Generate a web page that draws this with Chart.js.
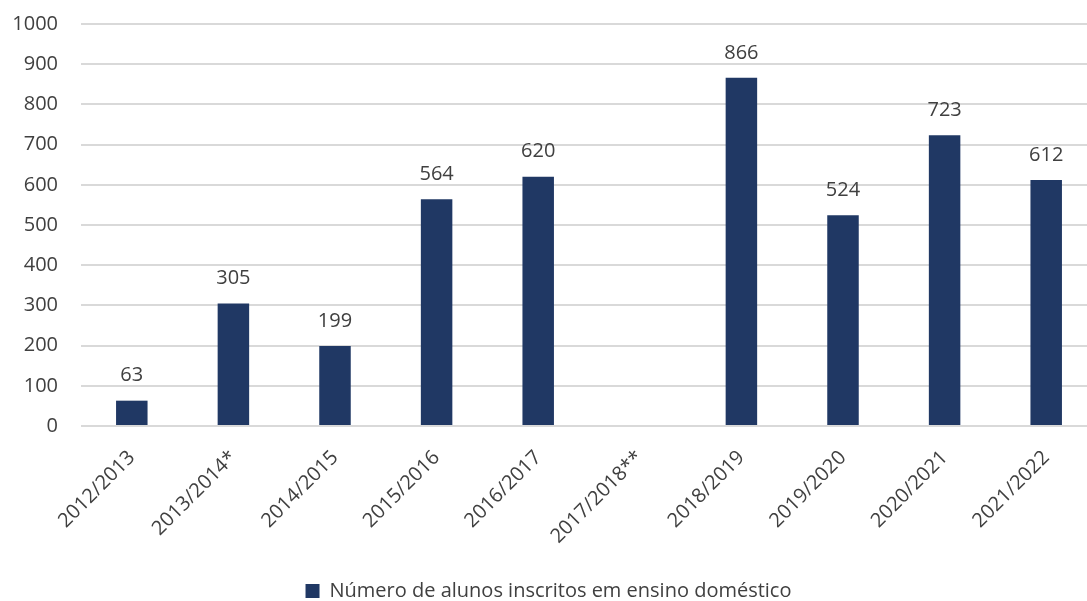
<!DOCTYPE html>
<html>
<head>
<meta charset="utf-8">
<script src="https://cdn.jsdelivr.net/npm/chart.js@4"></script>
<style>
  html, body { margin: 0; padding: 0; background: #fff; overflow: hidden; }
  #wrap { width: 1097px; height: 601px; }
</style>
</head>
<body>
<div id="wrap"><canvas id="myChart"></canvas></div>
<script>
var years = ['2012/2013', '2013/2014*', '2014/2015', '2015/2016', '2016/2017', '2017/2018**', '2018/2019', '2019/2020', '2020/2021', '2021/2022'];
var alunos = [63, 305, 199, 564, 620, null, 866, 524, 723, 612];
var yTicks = [0, 100, 200, 300, 400, 500, 600, 700, 800, 900, 1000];

Chart.defaults.font.family = '"Open Sans", "Noto Sans", sans-serif';
Chart.defaults.color = '#404040';

// value labels above bars
var barLabels = {
    id: 'barLabels',
    afterDatasetsDraw: function (chart) {
        var ctx = chart.ctx;
        var meta = chart.getDatasetMeta(0);
        ctx.save();
        ctx.font = '20px "Open Sans", "Noto Sans", sans-serif';
        ctx.fillStyle = '#404040';
        ctx.textAlign = 'center';
        ctx.textBaseline = 'middle';
        meta.data.forEach(function (bar, i) {
            if (alunos[i] == null) return;
            ctx.fillText(alunos[i], bar.x, bar.y - 25);
        });
        ctx.restore();
    }
};

var ctx = document.getElementById('myChart').getContext('2d');
var chart = new Chart(ctx, {
    type: 'bar',
    data: {
        labels: years,
        datasets: [{
            label: 'Número de alunos inscritos em ensino doméstico',
            backgroundColor: '#203864',
            data: alunos,
            categoryPercentage: 1,
            barPercentage: 0.31
        }]
    },
    options: {
        responsive: true,
        maintainAspectRatio: false,
        animation: false,
        layout: { padding: { top: 24, right: 0, left: 0, bottom: -10 } },
        scales: {
            x: {
                grid: { display: false },
                border: { display: false },
                afterFit: function (axis) {
                    axis.height = 153;
                    axis.paddingLeft = 0;
                    axis.paddingRight = 0;
                },
                ticks: {
                    font: { size: 20 },
                    color: '#404040',
                    maxRotation: 45,
                    minRotation: 45,
                    autoSkip: false,
                    padding: 12
                }
            },
            y: {
                min: 0,
                max: 1000,
                afterBuildTicks: function (axis) {
                    axis.ticks = yTicks.map(function (v) { return { value: v }; });
                },
                afterFit: function (axis) {
                    axis.width = 81;
                    axis.paddingTop = 0;
                    axis.paddingBottom = 0;
                },
                grid: { color: '#d9d9d9', lineWidth: 2, drawTicks: false },
                border: { display: false },
                ticks: {
                    font: { size: 20 },
                    color: '#404040',
                    padding: 23,
                    callback: function (v) { return String(v); }
                }
            }
        },
        plugins: {
            legend: {
                position: 'bottom',
                labels: {
                    font: { size: 20 },
                    color: '#404040',
                    boxWidth: 14,
                    boxHeight: 14,
                    padding: 2
                }
            },
            tooltip: { enabled: false }
        }
    },
    plugins: [barLabels]
});
</script>
</body>
</html>
